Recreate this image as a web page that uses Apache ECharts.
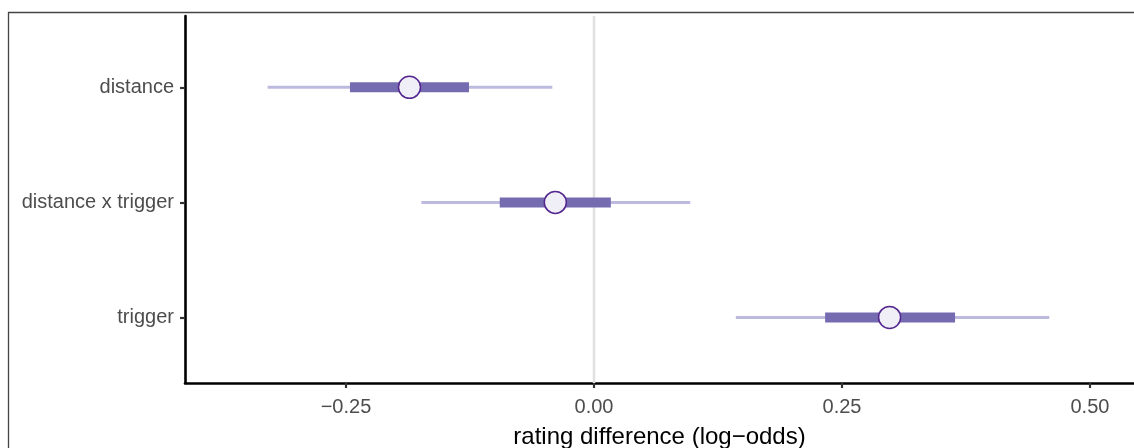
<!DOCTYPE html>
<html>
<head>
<meta charset="utf-8">
<script src="https://cdn.jsdelivr.net/npm/echarts@6/dist/echarts.min.js"></script>
<style>html,body{margin:0;padding:0;background:#fff}#c{width:1134px;height:448px}</style>
</head>
<body>
<div id="c"></div>
<script>
const categories = ['trigger', 'distance x trigger', 'distance'];
const outerLow  = [0.143, -0.174, -0.329];
const outerHigh = [0.459, 0.097, -0.042];
const innerLow  = [0.233, -0.095, -0.246];
const innerHigh = [0.364, 0.017, -0.126];
const estimate  = [0.298, -0.039, -0.186];
const xTicks = [-0.25, 0, 0.25, 0.5];
const xTickLabels = ['\u22120.25', '0.00', '0.25', '0.50'];

const chart = echarts.init(document.getElementById('c'));
const FONT = 'Liberation Sans, Arial, sans-serif';

const intervalData = categories.map((c, i) => [i + 1, outerLow[i], outerHigh[i], innerLow[i], innerHigh[i]]);

chart.setOption({
  animation: false,
  backgroundColor: '#fff',
  graphic: [{
    type: 'rect', z: -10, silent: true,
    shape: { x: 8.5, y: 12.5, width: 1300, height: 600 },
    style: { fill: 'none', stroke: '#444', lineWidth: 1.3 }
  }],
  grid: { left: 185, right: 0, top: 16, bottom: 65, containLabel: false, outerBoundsMode: 'none' },
  xAxis: {
    type: 'value', min: -0.4123, max: 0.5444,
    name: 'rating difference (log\u2212odds)', nameLocation: 'middle', nameGap: 42,
    nameTextStyle: { fontFamily: FONT, fontSize: 24, color: '#000' },
    axisLine: { show: true, onZero: false, lineStyle: { color: '#000', width: 2.6 } },
    axisTick: { show: true, customValues: xTicks, length: 5, lineStyle: { color: '#333', width: 2.2 } },
    axisLabel: {
      customValues: xTicks, margin: 14,
      formatter: v => { const i = xTicks.findIndex(t => Math.abs(t - v) < 1e-9); return i >= 0 ? xTickLabels[i] : ''; },
      fontFamily: FONT, fontSize: 20, color: '#4d4d4d'
    },
    splitLine: { show: false }
  },
  yAxis: {
    type: 'value', min: 0.43, max: 3.62,
    axisLine: { show: true, onZero: false, lineStyle: { color: '#000', width: 2.6 } },
    axisTick: { show: true, customValues: [1, 2, 3], length: 5, lineStyle: { color: '#333', width: 2.2 } },
    axisLabel: {
      customValues: [1, 2, 3], margin: 11,
      formatter: v => categories[Math.round(v) - 1] || '',
      fontFamily: FONT, fontSize: 20, color: '#4d4d4d'
    },
    splitLine: { show: false }
  },
  series: [
    {
      type: 'line', data: [[0, 0.43], [0, 3.62]], symbol: 'none', z: 1, silent: true,
      lineStyle: { color: '#e0e0e0', width: 2.5 }
    },
    {
      type: 'custom', z: 2, silent: true,
      data: intervalData,
      encode: { x: [1, 2], y: 0 },
      renderItem: (params, api) => {
        const y = api.value(0);
        const a = api.coord([api.value(1), y]);
        const b = api.coord([api.value(2), y]);
        const c = api.coord([api.value(3), y]);
        const d = api.coord([api.value(4), y]);
        return {
          type: 'group',
          children: [
            { type: 'line', shape: { x1: a[0], y1: a[1], x2: b[0], y2: b[1] }, style: { stroke: '#bcbade', lineWidth: 3 } },
            { type: 'line', shape: { x1: c[0], y1: c[1], x2: d[0], y2: d[1] }, style: { stroke: '#756bb1', lineWidth: 10 } }
          ]
        };
      }
    },
    {
      type: 'scatter', z: 3, silent: true,
      data: estimate.map((v, i) => [v, i + 1]),
      symbol: 'circle', symbolSize: 22,
      itemStyle: { color: '#f0eff7', borderColor: '#54278f', borderWidth: 1.5, opacity: 1 }
    }
  ]
});
</script>
</body>
</html>
